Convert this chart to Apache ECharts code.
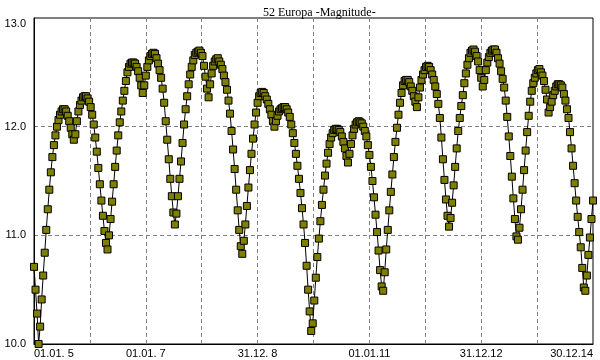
<!DOCTYPE html>
<html><head><meta charset="utf-8">
<script src="https://cdn.jsdelivr.net/npm/echarts@6/dist/echarts.min.js"></script>
<style>html,body{margin:0;padding:0;background:#fff}#c{width:600px;height:360px}</style>
</head><body><div id="c"></div>
<script>
// 52 Europa magnitude, sampled every 10 days from 01.01.2005
const startYear = 2005;
const stepDays = 10;

const season1 = [10.71,10.50,10.28,10.00,10.16,10.41,10.63,10.84,11.05,11.24,11.42,11.58,11.72,11.83,11.92,12.00,12.06,12.11,12.14,12.16,12.16,12.14,12.10,12.05,11.99,11.93,11.88,11.93,12.05,12.14,12.20,12.24,12.27,12.28,12.28,12.26,12.23,12.18,12.11,12.02,11.90,11.77,11.62,11.47,11.32,11.18,11.04,10.93,10.87];
const season2 = [11.00,11.15,11.31,11.47,11.63,11.78,11.92,12.04,12.14,12.24,12.33,12.42,12.50,12.55,12.58,12.59,12.59,12.58,12.55,12.51,12.45,12.38,12.31,12.38,12.47,12.55,12.61,12.65,12.67,12.68,12.67,12.63,12.58,12.52,12.45,12.35,12.22,12.05,11.88,11.70,11.52,11.36,11.21,11.10];
const season3 = [11.20,11.36,11.52,11.68,11.85,12.02,12.16,12.28,12.39,12.48,12.55,12.61,12.66,12.68,12.69,12.70,12.68,12.65,12.56,12.46,12.35,12.27,12.39,12.49,12.56,12.60,12.62,12.63,12.60,12.57,12.53,12.47,12.41,12.34,12.24,12.12,11.96,11.79,11.61,11.42,11.23,11.05,10.90,10.83];
const season4 = [10.95,11.10,11.27,11.44,11.60,11.75,11.89,12.02,12.13,12.22,12.28,12.31,12.32,12.31,12.28,12.25,12.21,12.16,12.11,12.05,12.00,12.05,12.10,12.14,12.16,12.17,12.18,12.18,12.16,12.13,12.09,12.02,11.94,11.85,11.75,11.64,11.52,11.39,11.25,11.10,10.93,10.72,10.50,10.30,10.12];
const season5 = [10.19,10.40,10.61,10.80,10.97,11.13,11.28,11.42,11.55,11.66,11.76,11.84,11.90,11.94,11.97,11.98,11.98,11.97,11.95,11.91,11.86,11.80,11.73,11.67,11.75,11.84,11.92,11.98,12.02,12.04,12.05,12.04,12.03,12.00,11.96,11.91,11.83,11.74,11.63,11.50,11.35,11.19,11.03,10.86,10.68,10.53,10.49];
const season6 = [10.66,10.87,11.05,11.23,11.40,11.56,11.72,11.86,11.99,12.11,12.22,12.31,12.38,12.42,12.43,12.43,12.41,12.37,12.33,12.28,12.23,12.18,12.27,12.36,12.43,12.48,12.52,12.55,12.56,12.55,12.52,12.48,12.43,12.37,12.30,12.21,12.08,11.90,11.70,11.51,11.33,11.18,11.08];
const season7 = [11.16,11.30,11.46,11.63,11.80,11.96,12.08,12.19,12.29,12.40,12.49,12.57,12.63,12.68,12.70,12.71,12.69,12.65,12.60,12.52,12.45,12.37,12.43,12.52,12.59,12.64,12.68,12.70,12.71,12.71,12.68,12.63,12.58,12.51,12.44,12.36,12.24,12.09,11.91,11.73,11.54,11.34,11.15,10.99,10.96];
const season8 = [11.07,11.24,11.42,11.60,11.78,11.95,12.10,12.23,12.33,12.40,12.45,12.49,12.52,12.53,12.50,12.47,12.42,12.34,12.25,12.13,12.18,12.23,12.29,12.33,12.37,12.39,12.39,12.38,12.36,12.30,12.24,12.16,12.08,11.95,11.80,11.64,11.48,11.32,11.17,11.03,10.89,10.70,10.52,10.49,10.63,10.82,10.98,11.15,11.32];

const tickYears = [2005, 2007, 2009, 2011, 2013, 2015];
const tickLabels = ['01.01. 5', '01.01. 7', '31.12. 8', '01.01.11', '31.12.12', '30.12.14'];

const mags = [].concat(season1, season2, season3, season4, season5, season6, season7, season8);
const data = mags.map((m, i) => [startYear + i * stepDays / 365, m]);

const chart = echarts.init(document.getElementById('c'), null, {renderer: 'canvas'});
const labelFont = {fontFamily: 'Liberation Sans', fontSize: 11, color: '#000'};
const dashed = {show: true, showMinLine: false, showMaxLine: false, lineStyle: {color: '#808080', type: [4, 3], width: 1}};
chart.setOption({
  animation: false,
  backgroundColor: '#fff',
  title: {
    text: '52 Europa -Magnitude-',
    left: 258, top: 2,
    textStyle: {fontFamily: 'Liberation Serif', fontSize: 12, fontWeight: 'normal', color: '#000'}
  },
  grid: {left: 34, right: 7, top: 18, bottom: 16, show: true, borderColor: '#000', borderWidth: 1, backgroundColor: 'transparent'},
  xAxis: {
    type: 'value', min: 2005, max: 2015, interval: 1,
    axisLine: {show: true, lineStyle: {color: '#000', width: 1}},
    axisTick: {show: false},
    splitLine: dashed,
    axisLabel: Object.assign({}, labelFont, {
      margin: 4,
      showMinLabel: true, showMaxLabel: true,
      alignMinLabel: 'left', alignMaxLabel: 'right',
      formatter: v => { const k = tickYears.indexOf(Math.round(v)); return k >= 0 ? tickLabels[k] : ''; }
    })
  },
  yAxis: {
    type: 'value', min: 10, max: 13, interval: 1,
    axisLine: {show: true, lineStyle: {color: '#000', width: 1}},
    axisTick: {show: false},
    splitLine: dashed,
    axisLabel: Object.assign({}, labelFont, {
      margin: 8,
      padding: [0, 0, 5, 0],
      verticalAlignMaxLabel: 'top',
      formatter: v => v.toFixed(1)
    })
  },
  series: [{
    type: 'line',
    data: data,
    symbol: 'rect',
    symbolSize: 7,
    showAllSymbol: true,
    clip: false,
    lineStyle: {color: '#000', width: 1},
    itemStyle: {color: '#808000', borderColor: '#000', borderWidth: 1}
  }]
});
</script>
</body></html>
